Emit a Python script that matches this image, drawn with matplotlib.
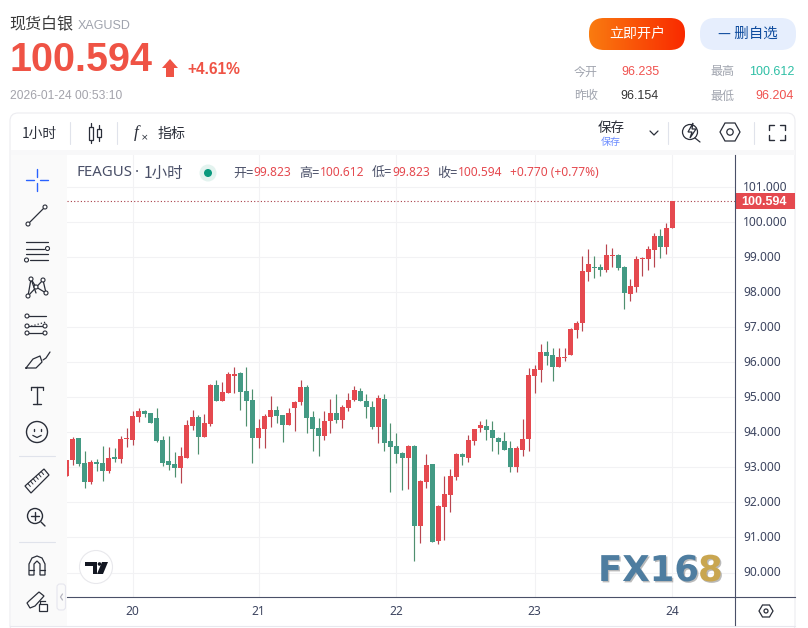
import matplotlib
matplotlib.use('Agg')
import matplotlib.pyplot as plt
import numpy as np
from matplotlib.patches import FancyBboxPatch, Rectangle, Circle, Polygon
import matplotlib.patheffects as pe
from matplotlib.transforms import blended_transform_factory, ScaledTranslation

opens = [92.75,93.22,93.84,93.12,92.58,93.15,93.12,92.90,93.30,93.24,93.81,93.78,94.44,94.61,94.55,94.41,93.78,93.18,93.10,92.98,
         93.27,94.18,94.44,93.87,94.24,95.35,94.90,95.12,95.62,95.70,95.18,94.92,93.84,94.10,94.44,94.64,94.50,94.21,94.70,94.87,
         95.30,94.44,94.12,93.90,94.32,94.55,94.35,94.70,94.92,95.18,94.90,94.72,94.15,94.95,93.75,93.61,93.41,93.27,93.61,91.32,
         92.58,93.10,90.90,91.87,92.21,92.72,93.38,93.27,93.75,94.12,94.18,94.07,93.84,93.75,93.55,93.01,93.50,93.81,95.61,95.78,
         96.30,96.21,95.87,96.12,96.21,96.92,97.12,98.58,98.72,98.72,98.64,99.04,99.07,98.72,97.95,98.15,98.95,98.95,99.21,99.61,
         99.30,99.823]
highs = [93.21,93.87,93.84,93.47,93.21,93.24,93.61,93.58,93.55,93.90,94.12,94.61,94.70,94.64,94.55,94.70,93.90,93.90,93.44,93.58,
         94.35,94.64,94.50,94.52,95.38,95.50,95.44,95.72,95.87,95.72,95.87,95.24,94.38,94.52,95.04,94.75,94.50,94.70,94.90,95.50,
         95.35,94.61,94.41,94.61,94.95,95.10,94.78,95.12,95.32,95.27,95.10,94.90,95.07,95.10,94.27,93.98,93.44,93.64,93.64,92.64,
         93.38,93.10,91.92,92.75,92.95,93.41,93.41,93.92,94.10,94.32,94.38,94.32,93.87,94.01,93.75,93.61,94.38,95.84,95.92,96.52,
         96.61,96.41,96.41,96.41,96.98,97.18,99.04,99.24,99.04,98.81,99.38,99.27,99.10,98.75,98.38,99.04,99.01,99.32,99.70,99.81,
         99.98,100.612]
lows = [92.75,93.07,93.04,92.41,92.52,92.90,92.61,92.84,93.15,93.12,93.58,93.64,94.30,94.44,94.27,93.72,93.04,92.92,92.72,92.55,
        93.27,94.07,93.38,93.87,94.18,94.90,94.90,95.12,95.12,94.64,94.18,93.12,93.55,93.55,94.15,94.27,93.72,94.21,94.04,94.78,
        93.98,93.47,93.32,93.78,93.98,94.27,94.12,94.61,94.90,94.90,94.41,94.10,93.70,93.47,92.30,93.12,92.35,92.38,90.32,90.84,
        92.41,90.87,90.81,90.92,91.72,92.64,93.07,93.15,93.64,94.01,93.78,93.47,93.38,93.50,92.87,92.87,93.32,93.47,95.12,95.44,
        95.92,95.47,95.87,96.04,96.21,96.70,96.90,98.32,98.41,98.47,98.58,98.72,98.64,97.52,97.75,98.01,98.47,98.64,98.72,98.98,
        99.10,99.823]
closes = [93.21,93.81,93.10,92.58,93.15,93.10,92.90,93.27,93.24,93.81,93.84,94.47,94.61,94.52,94.27,93.75,93.12,93.07,92.98,93.32,
          94.21,94.44,93.87,94.27,95.35,94.90,95.15,95.67,95.67,95.15,94.90,93.84,94.12,94.47,94.64,94.47,94.21,94.55,94.87,95.30,
          94.41,94.10,93.90,94.32,94.55,94.35,94.72,94.92,95.21,94.90,94.72,94.15,94.98,93.70,93.58,93.38,93.27,93.61,91.32,92.61,
          93.07,90.87,91.90,92.24,92.75,93.38,93.30,93.78,94.10,94.21,94.07,93.84,93.72,93.50,93.01,93.55,93.81,95.64,95.81,96.30,
          96.18,95.87,96.15,96.15,96.95,97.12,98.61,98.81,98.70,98.64,99.07,99.07,98.70,97.98,98.18,98.95,98.98,99.24,99.61,99.30,
          99.84,100.594]
day_positions = [11, 32, 55, 78, 101]
day_labels = ['20', '21', '22', '23', '24']
price_ticks = [90, 91, 92, 93, 94, 95, 96, 97, 98, 99, 100, 101]

CJK = ['Noto Sans CJK SC', 'DejaVu Sans']
LAT = ['Liberation Sans', 'Noto Sans CJK SC']
RED, GREEN = '#e5494f', '#439a84'
RED_W, GREEN_W = '#b8454f', '#4f906f'
W, H = 808, 628
def fs(px):
    return px * 0.72

fig = plt.figure(figsize=(W / 100, H / 100), dpi=100, facecolor='white')

def add_px_axes(z):
    a = fig.add_axes([0, 0, 1, 1], zorder=z)
    a.set_xlim(0, W); a.set_ylim(H, 0); a.axis('off')
    return a

bg = add_px_axes(0)
bg.add_patch(FancyBboxPatch((10, 113), 785, 520, boxstyle='round,pad=0,rounding_size=8',
                            fc='white', ec='#ececf0', lw=0.8))
bg.add_patch(Rectangle((11, 150), 56, 476, fc='#fafafa', ec='none'))
bg.add_patch(Rectangle((11, 150), 784, 5, fc='#f8f8f9', ec='none'))
bg.plot([10, 795], [626, 626], color='#e8e8ee', lw=0.8)

# ---- main chart ----
L, R, T, B = 67, 735, 155, 597
ax = fig.add_axes([L / W, 1 - B / H, (R - L) / W, (B - T) / H], zorder=1)
ax.patch.set_alpha(0)
idx = np.arange(len(closes))
x_left = (L - 66.5) / 6
ax.set_xlim(x_left, x_left + (R - L) / 6)
ax.set_ylim(90 + (572.5 - B) / 35.05, 90 + (572.5 - T) / 35.05)
for s in ax.spines.values():
    s.set_visible(False)
ax.set_xticks(day_positions); ax.set_xticklabels(day_labels)
ax.set_yticks(price_ticks); ax.set_yticklabels([f'{v:.3f}' for v in price_ticks])
ax.yaxis.tick_right()
ax.tick_params(axis='both', length=0, colors='#3d4560')
ax.tick_params(axis='y', pad=6, labelsize=fs(12))
ax.tick_params(axis='x', pad=6, labelsize=fs(12))
for t in ax.get_xticklabels() + ax.get_yticklabels():
    t.set_family('Noto Sans')
nudge = ScaledTranslation(0, 1 / 100, fig.dpi_scale_trans)
for t in ax.get_yticklabels():
    t.set_transform(t.get_transform() + nudge)
ax.grid(True, color='#f2f2f4', lw=0.8)
ax.set_axisbelow(True)

o, h, l, c = map(np.array, (opens, highs, lows, closes))
up = c >= o
ax.vlines(idx[up], l[up], h[up], color=RED_W, lw=0.85, zorder=3)
ax.vlines(idx[~up], l[~up], h[~up], color=GREEN_W, lw=0.85, zorder=3)
ax.bar(idx[up], (c - o)[up], bottom=o[up], width=0.83, color=RED, lw=0, zorder=4)
ax.bar(idx[~up], (o - c)[~up], bottom=c[~up], width=0.83, color=GREEN, lw=0, zorder=4)
ax.axhline(closes[-1], color='#a83f48', lw=0.8, ls=(0, (1, 2)), zorder=2)
tr = blended_transform_factory(ax.transAxes, ax.transData)
tag_h = 16 / 35.05
ax.add_patch(Rectangle((1, closes[-1] - tag_h / 2), 60 / (R - L), tag_h, transform=tr, fc=RED, ec='none',
                       clip_on=False, zorder=5))
ax.text(1 + 29 / (R - L), closes[-1] - 0.01, f'{closes[-1]:.3f}', transform=tr, color='white', ha='center', va='center',
        fontsize=fs(12.5), fontweight='bold', family='Liberation Sans', zorder=6)

# ---- overlay ----
ov = add_px_axes(2)
ov.patch.set_alpha(0)
DARK = '#3d4560'
ov.plot([735, 735], [155, 625], color='#4a5068', lw=0.8)
ov.plot([67, 795], [597, 597], color='#4a5068', lw=0.8)

def txt(x, y, s, px, color='#333333', ha='left', family=None, weight='normal', **kw):
    return ov.text(x, y, s, fontsize=fs(px), color=color, ha=ha, va='center',
                   family=family or CJK, fontweight=weight, **kw)

# header
txt(9, 25, '现货白银', 16, '#3a3a3a')
txt(78, 26, 'XAGUSD', 12.5, '#a0a4ae', family=LAT)
txt(9, 60, '100.594', 39.5, '#ef5345', family=LAT, weight='bold')
ov.add_patch(Polygon([(162, 68), (170, 59), (178, 68), (174, 68), (174, 77), (166, 77), (166, 68)], fc='#ef5345', ec='none'))
txt(187, 69.5, '+4.61%', 15.5, '#ef5345', family=LAT, weight='bold')
txt(10, 96, '2026-01-24 00:53:10', 12, '#a3a3ab', family=LAT)

# buttons
btn = FancyBboxPatch((589, 18), 96, 32, boxstyle='round,pad=0,rounding_size=15', fc='none', ec='none')
ov.add_patch(btn)
grad = np.linspace(0, 1, 96).reshape(1, -1, 1)
rgb = np.array([0xf9, 0x7b, 0x10]) / 255 * (1 - grad) + np.array([0xf9, 0x2a, 0x00]) / 255 * grad
im = ov.imshow(rgb, extent=(589, 685, 50, 18), aspect='auto', zorder=1)
im.set_clip_path(btn)
ov.set_xlim(0, W); ov.set_ylim(H, 0)
txt(637, 34, '立即开户', 14, 'white', ha='center', zorder=2)
ov.add_patch(FancyBboxPatch((700, 18), 96, 32, boxstyle='round,pad=0,rounding_size=15', fc='#e6eefd', ec='none'))
txt(748, 34, '— 删自选', 14.5, '#0f4c9e', ha='center', zorder=2)

# stats
txt(574, 72, '今开', 12, '#a0a4ae')
txt(659, 72, '96.235', 12.5, '#f0524f', ha='right', family=LAT)
txt(710, 72, '最高', 12, '#a0a4ae')
txt(794, 72, '100.612', 12.5, '#2ebfa5', ha='right', family=LAT)
txt(574, 96, '昨收', 12, '#a0a4ae')
txt(659, 96, '96.154', 12.5, '#333333', ha='right', family=LAT)
txt(710, 96, '最低', 12, '#a0a4ae')
txt(794, 96, '96.204', 12.5, '#f0524f', ha='right', family=LAT)

# top toolbar
INK = '#2a2e39'
def ln(xs, ys, color=INK, lw=0.9, **kw):
    ov.plot(xs, ys, color=color, lw=lw, solid_capstyle='round', **kw)
def dot(x, y, r=2, color=INK, fc='white', lw=0.8):
    ov.add_patch(Circle((x, y), r, fc=fc, ec=color, lw=lw, zorder=5))

txt(22, 134, '1小时', 13.8, '#2a2e39')
for sx in (70, 117, 668, 754):
    ln([sx, sx], [122, 144], color='#e0e3eb', lw=0.8)
ov.add_patch(Rectangle((88.5, 127), 4, 13, fc='white', ec=INK, lw=0.9))
ln([90.5, 90.5], [123, 127]); ln([90.5, 90.5], [140, 143])
ov.add_patch(Rectangle((97, 129), 3.5, 8, fc='white', ec=INK, lw=0.9))
ln([98.7, 98.7], [125, 129]); ln([98.7, 98.7], [137, 141])
txt(134, 133, 'f', 17, INK, family='Liberation Serif', style='italic')
txt(141, 138, '×', 9, INK, family='DejaVu Sans')
txt(158, 134, '指标', 14, '#2a2e39')
txt(611.5, 128, '保存', 13.5, '#2a2e39', ha='center')
txt(611, 142, '保存', 10, '#6b8cff', ha='center')
ln([650, 654, 658], [131, 135, 131])
ov.add_patch(Circle((690, 132), 7.5, fc='none', ec=INK, lw=0.9))
ln([695, 700], [138, 142])
ov.add_patch(Polygon([(693, 123), (688, 132), (692, 132), (690, 138), (696, 129), (692, 129)], fc='white', ec=INK, lw=0.9, zorder=5))
def hexagon(cx, cy, rx, ry, r):
    ov.add_patch(Polygon([(cx - rx, cy), (cx - rx / 2, cy - ry), (cx + rx / 2, cy - ry), (cx + rx, cy),
                          (cx + rx / 2, cy + ry), (cx - rx / 2, cy + ry)], fc='none', ec=INK, lw=0.9))
    ov.add_patch(Circle((cx, cy), r, fc='none', ec=INK, lw=0.9))
hexagon(730, 132, 10, 9, 3.2)
for (cx, cy, dx, dy) in [(769, 125, 1, 1), (785, 125, -1, 1), (769, 140, 1, -1), (785, 140, -1, -1)]:
    ln([cx + dx * 5, cx, cx], [cy, cy, cy + dy * 5], lw=1)

# legend row
LG = '#4a5068'
txt(76, 173, 'FEAGUS', 15, LG, family='Noto Sans')
txt(135, 172, '·', 15, LG, family='Noto Sans', weight='bold')
txt(144, 173, '1小时', 15.5, LG)
ov.add_patch(Circle((208, 173), 8.5, fc='#e3f3ef', ec='none'))
ov.add_patch(Circle((208, 173), 4, fc='#0b9a7e', ec='none'))
for x0, s, col in [(233, '开=', LG), (253, '99.823', RED), (299, '高=', LG), (320, '100.612', RED),
                   (372, '低=', LG), (392, '99.823', RED), (437, '收=', LG), (458, '100.594', RED),
                   (510, '+0.770 (+0.77%)', RED)]:
    px = 12 if s[0] in '0123456789+' else 13
    txt(x0, 173, s, px, col, family=['Noto Sans', 'Noto Sans CJK SC'])

# left tool icons
BLUE = '#2962ff'
cx = 37
ln([26, 34], [180, 180], BLUE, 1); ln([40, 48], [180, 180], BLUE, 1)
ln([37, 37], [169, 177], BLUE, 1); ln([37, 37], [183, 191], BLUE, 1)
ln([28, 45], [224, 207]); dot(28, 224); dot(45, 207)
ln([26, 48], [242, 242]); ln([26, 44], [249, 249]); ln([30, 48], [260, 260]); ln([26, 48], [254, 254])
dot(47.5, 248.5); dot(26.5, 260)
for a, b in [((28, 296), (31, 279)), ((31, 279), (36, 293)), ((28, 296), (43, 280)), ((36, 287), (46, 293)),
             ((43, 280), (46, 293)), ((31, 279), (36, 287))]:
    ln([a[0], b[0]], [a[1], b[1]])
for p in [(28, 296), (31, 279), (36, 287), (43, 280), (46, 293)]:
    dot(*p)
ln([28, 46], [316, 316]); ln([28, 46], [333, 333]); ln([28, 46], [327, 322], ls=':')
ln([28, 46], [326, 326]) 
for p in [(27, 316), (27, 326), (27, 333), (45, 326), (45, 333)]:
    dot(*p)
ov.plot([26, 33, 40, 42, 36, 26], [368, 359, 356, 362, 368, 368], color=INK, lw=0.9)
ln([43, 46, 50], [360, 358, 352])
ln([31, 43], [387, 387], lw=1); ln([37, 37], [387, 404], lw=1); ln([33, 41], [404, 404], lw=1)
ln([31, 31], [387, 390]); ln([43, 43], [387, 390])
ov.add_patch(Circle((37, 432), 10.5, fc='none', ec=INK, lw=1))
ln([33.5, 33.5], [429, 431], lw=1); ln([40.5, 40.5], [429, 431], lw=1)
ov.plot([33, 37, 41], [435.5, 437.5, 435.5], color=INK, lw=0.9)
for sy in (456, 541.5):
    ln([19, 55], [sy, sy], color='#e0e3eb', lw=0.8)
ov.add_patch(Polygon([(25, 486), (44, 469), (49, 475), (31, 493)], fc='none', ec=INK, lw=0.9))
for t in np.linspace(0.15, 0.85, 6):
    x1, y1 = 25 + 19 * t, 486 - 17 * t
    ln([x1, x1 + 2.5], [y1, y1 + 3], lw=0.7)
ov.add_patch(Circle((35, 516), 7.5, fc='none', ec=INK, lw=1))
ln([35, 35], [512, 520], lw=1); ln([31, 39], [516, 516], lw=1); ln([41, 45], [522, 526], lw=1)
ov.add_patch(Polygon([(29, 575), (29, 564), (32, 558), (37, 556), (42, 558), (45, 564), (45, 575), (40, 575), (40, 564), (37, 561),
                      (34, 564), (34, 575)], fc='none', ec=INK, lw=0.9))
ln([29, 34], [570, 570]); ln([40, 45], [570, 570])
ov.add_patch(Polygon([(27, 603), (30, 608), (35, 606), (44, 596), (39, 592), (29, 601)], fc='none', ec=INK, lw=0.9))
ov.add_patch(Rectangle((38.5, 604), 8, 6.5, fc='white', ec=INK, lw=0.9, zorder=5))
ov.plot([40, 40, 45], [604, 601, 601], color=INK, lw=0.9)
ov.add_patch(FancyBboxPatch((57, 584), 8.5, 26, boxstyle='round,pad=0,rounding_size=3', fc='#fafafa', ec='#e6e6ee', lw=0.8, zorder=3))
ln([62.5, 60.5, 62.5], [594, 597, 600], color='#b5b5c0', zorder=4)

# TV logo
ov.add_patch(Circle((96, 567), 16.5, fc='white', ec='#e8e8ec', lw=0.8))
ov.add_patch(Polygon([(85, 562), (97, 562), (97, 574), (93, 574), (93, 566), (85, 566)], fc='#131722', ec='none'))
ov.add_patch(Polygon([(102, 562), (108, 562), (103, 574), (97, 574)], fc='#131722', ec='none'))
ov.add_patch(Circle((99.5, 564), 1.8, fc='#131722', ec='none'))

# watermark
shadow = [pe.withSimplePatchShadow(offset=(1, -1), shadow_rgbFace='#777777', alpha=0.5)]
t1 = txt(598, 571, 'FX16', 35.5, '#4e7da0', family='DejaVu Sans', weight='bold', zorder=6)
t2 = txt(698, 571, '8', 35.5, '#c9a650', family='DejaVu Sans', weight='bold', zorder=6)
t1.set_path_effects(shadow); t2.set_path_effects(shadow)

# axis gear
ov.add_patch(Polygon([(759, 611), (762.5, 605), (769.5, 605), (773, 611), (769.5, 617), (762.5, 617)], fc='none', ec=INK, lw=0.9))
ov.add_patch(Circle((766, 611), 2, fc='none', ec=INK, lw=0.9))

fig.savefig('out.png', dpi=100)
